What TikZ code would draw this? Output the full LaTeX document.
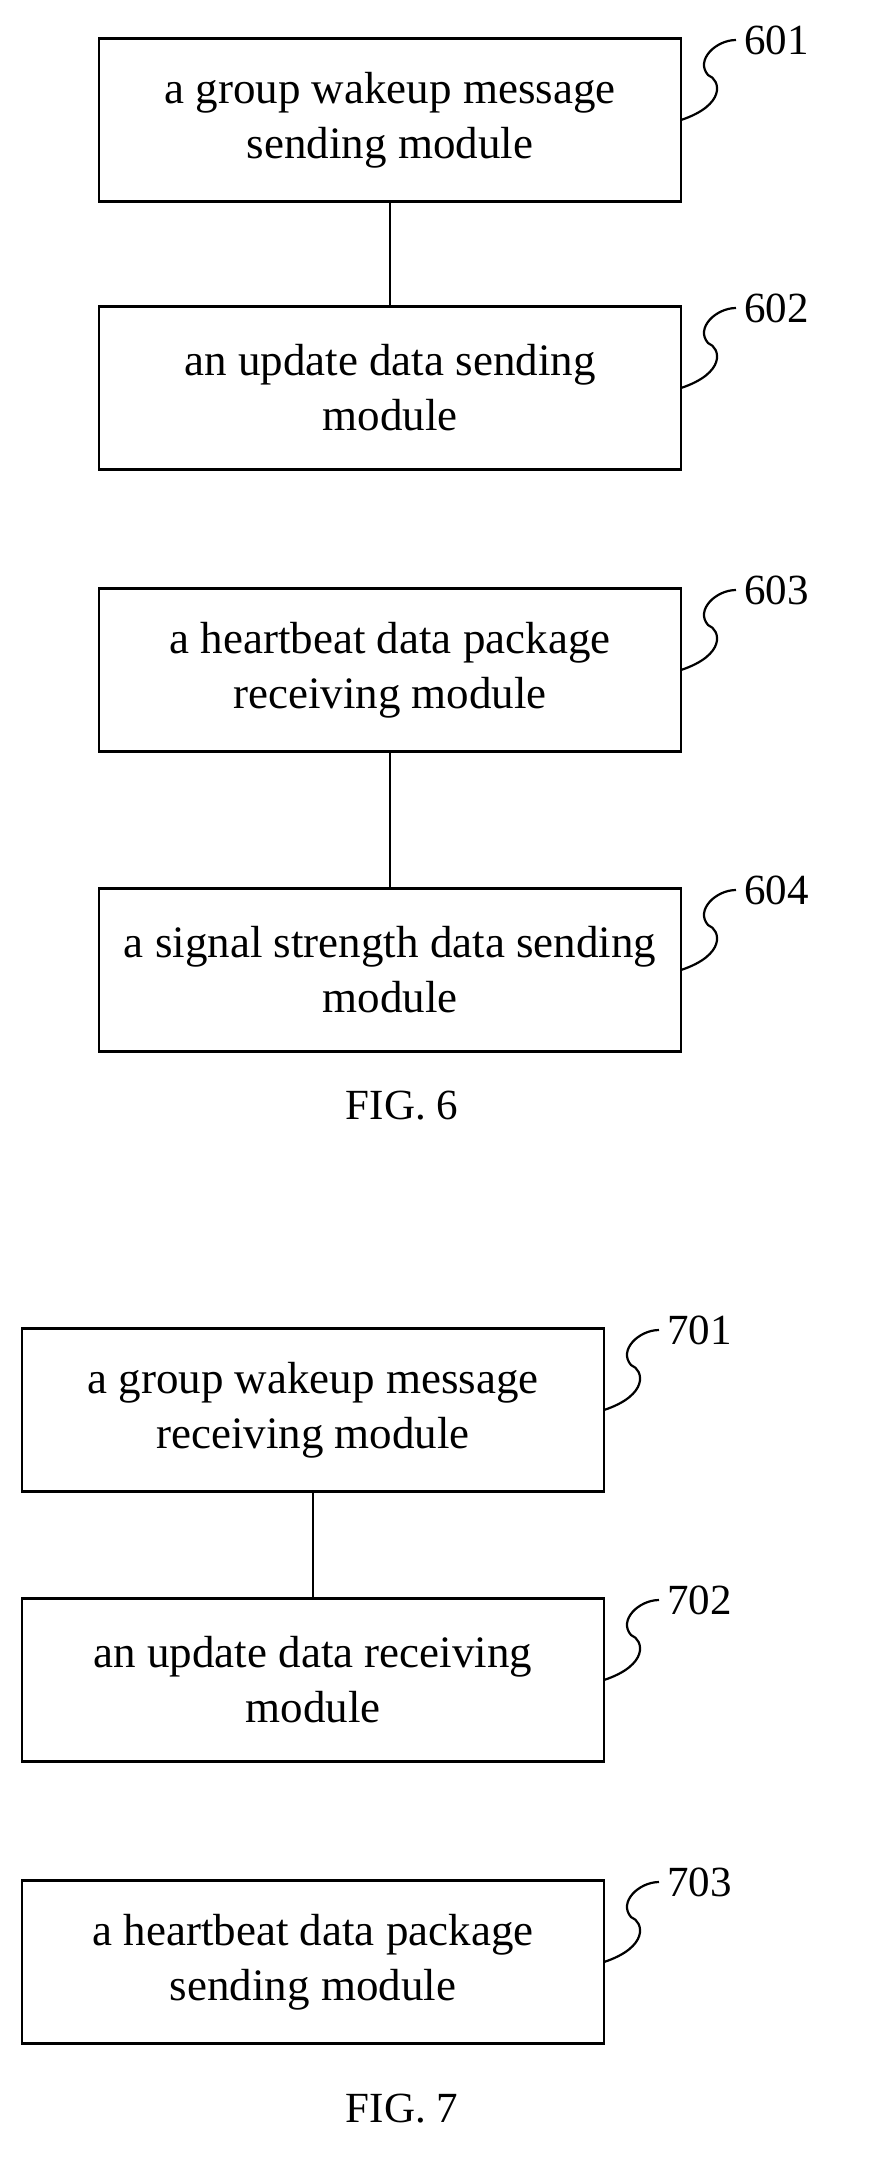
\documentclass[tikz,border=0pt]{standalone}
\usepackage{fontspec}
\setmainfont{Liberation Serif}
\begin{document}
\begin{tikzpicture}[x=1pt,y=-1pt,
  box/.style={draw,line width=2.2pt,minimum width=582pt,minimum height=163pt,align=center,inner sep=0pt,font=\fontsize{45}{55}\selectfont},
  lab/.style={font=\fontsize{43}{44}\selectfont,anchor=west,inner sep=0pt},
  sq/.style={line width=2.2pt},
  ln/.style={line width=2.2pt}]
\useasboundingbox (0,0) rectangle (872,2159);
\node[box] (b601) at (390,120) {a group wakeup message\\sending module};
\node[box] (b602) at (390,388) {an update data sending\\module};
\node[box] (b603) at (390,670) {a heartbeat data package\\receiving module};
\node[box] (b604) at (390,970) {a signal strength data sending\\module};
\node[font=\fontsize{43}{44}\selectfont] (f6) at (402,1106) {FIG. 6};
\node[box] (b701) at (313,1410) {a group wakeup message\\receiving module};
\node[box] (b702) at (313,1680) {an update data receiving\\module};
\node[box] (b703) at (313,1962) {a heartbeat data package\\sending module};
\node[font=\fontsize{43}{44}\selectfont] (f7) at (402,2109) {FIG. 7};
\draw[ln] (b601) -- (b602);
\draw[ln] (b603) -- (b604);
\draw[ln] (b701) -- (b702);
\foreach \n/\x/\y in {601/681/120,602/681/388,603/681/670,604/681/970,701/604/1410,702/604/1680,703/604/1962}{
  \coordinate (s\n) at (\x,\y);
  \coordinate (e\n) at (\x+55,\y-80);
  \node[lab] (l\n) at (\x+63,\y-80) {\n};
  \draw[sq] (s\n) .. controls (\x+45,\y-15) and (\x+40,\y-40) .. (\x+27,\y-45)
     .. controls (\x+14,\y-60) and (\x+35,\y-80) .. (e\n);
}
\end{tikzpicture}
\end{document}
